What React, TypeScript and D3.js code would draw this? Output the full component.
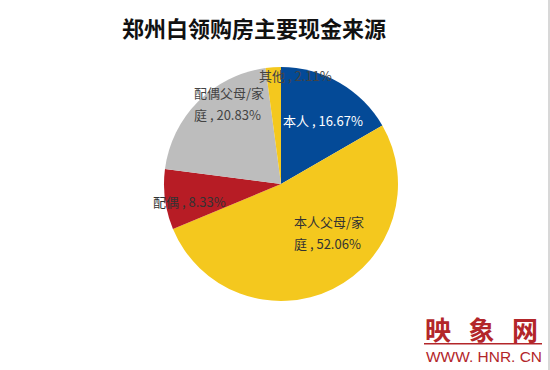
import React from "react";
import * as d3 from "d3";

const categories = ["本人", "本人父母/家庭", "配偶", "配偶父母/家庭", "其他"];
const values = [16.67, 52.06, 8.33, 20.83, 2.11];
const colors = ["#044A97", "#F4C81E", "#B71C25", "#BDBDBD", "#F4C81E"];
const labelLines = [
  ["本人 , 16.67%"],
  ["本人父母/家", "庭 , 52.06%"],
  ["配偶 , 8.33%"],
  ["配偶父母/家", "庭 , 20.83%"],
  ["其他 , 2.11%"],
];
const labelColors = ["#FFFFFF", "#333333", "#333333", "#444444", "#444444"];
const title = "郑州白领购房主要现金来源";

const W = 550, H = 370;
const cx = 281, cy = 184, R = 117;
// label anchor positions (left x, first baseline y)
const labelPos: [number, number][] = [
  [283, 126],
  [294, 227],
  [153, 207],
  [194, 98],
  [259, 81],
];

export default function App() {
  const data = categories.map((c, i) => ({ c, v: values[i], i }));
  const pie = d3.pie<any>().sort(null).value((d) => d.v);
  const arc = d3.arc<any>().innerRadius(0).outerRadius(R);
  const arcs = pie(data);
  const font = "'Noto Sans CJK SC', 'Microsoft YaHei', sans-serif";
  return (
    <svg width={W} height={H} style={{ position: "absolute", left: 0, top: 0, background: "#fff" }}>
      <rect x={0} y={0} width={W} height={H} fill="#fff" />
      <text x={254} y={37} textAnchor="middle" fontFamily={font} fontWeight="bold" fontSize={22} fill="#111">
        {title}
      </text>
      <g transform={`translate(${cx},${cy})`}>
        {arcs.map((a, i) => (
          <path key={i} d={arc(a) as string} fill={colors[i]} />
        ))}
      </g>
      {labelLines.map((lines, i) => (
        <text key={i} fontFamily={font} fontSize={13} fill={labelColors[i]}>
          {lines.map((l, j) => (
            <tspan key={j} x={labelPos[i][0]} y={labelPos[i][1] + j * 22}>
              {l}
            </tspan>
          ))}
        </text>
      ))}
      <g fill="#B3262A">
        <text x={425} y={340} fontFamily={font} fontSize={26} fontWeight="bold" textLength={113} lengthAdjust="spacing">
          映象网
        </text>
        <rect x={424} y={343} width={118} height={1.5} />
        <text x={426} y={362} fontFamily="'Liberation Sans', Arial, sans-serif" fontSize={14} textLength={116} lengthAdjust="spacingAndGlyphs">
          WWW. HNR. CN
        </text>
      </g>
      <rect x={548} y={0} width={2} height={H} fill="#D8D8D8" />
    </svg>
  );
}
